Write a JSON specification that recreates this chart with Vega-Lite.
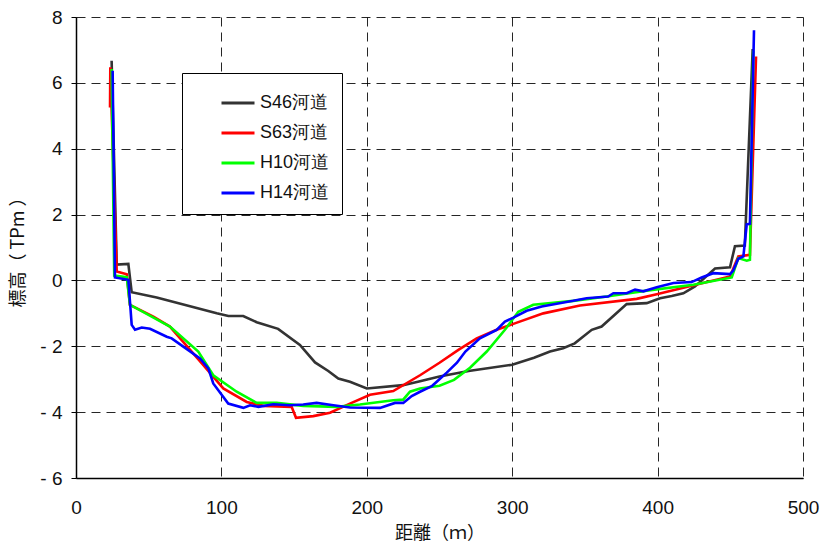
{
  "$schema": "https://vega.github.io/schema/vega-lite/v6.json",
  "width": 727,
  "height": 461,
  "autosize": {"type": "none"},
  "padding": {"left": 76, "top": 17, "right": 18, "bottom": 69},
  "background": "white",
  "config": {
    "view": {"stroke": null},
    "font": "Liberation Sans",
    "axis": {
      "grid": true,
      "gridColor": "#000000",
      "gridDash": [9, 6],
      "gridWidth": 1,
      "gridOpacity": 0.85,
      "domainColor": "#000000",
      "domainWidth": 1.5,
      "labelFont": "Liberation Sans",
      "labelFontSize": 19,
      "labelColor": "#111111",
      "labelFlush": false,
      "titleFont": "Noto Sans CJK JP",
      "titleFontSize": 18,
      "titleFontWeight": "normal",
      "titleColor": "#111111"
    }
  },
  "data": {
    "values": [
      {"s": "S46河道", "i": 1, "x": 24.5, "y": 6.67},
      {"s": "S46河道", "i": 2, "x": 28, "y": 0.48},
      {"s": "S46河道", "i": 3, "x": 36, "y": 0.5},
      {"s": "S46河道", "i": 4, "x": 38.3, "y": -0.36},
      {"s": "S46河道", "i": 5, "x": 55.5, "y": -0.52},
      {"s": "S46河道", "i": 6, "x": 96.8, "y": -1.0},
      {"s": "S46河道", "i": 7, "x": 104.8, "y": -1.08},
      {"s": "S46河道", "i": 8, "x": 115, "y": -1.08},
      {"s": "S46河道", "i": 9, "x": 124.3, "y": -1.27},
      {"s": "S46河道", "i": 10, "x": 139, "y": -1.47},
      {"s": "S46河道", "i": 11, "x": 154, "y": -1.96},
      {"s": "S46河道", "i": 12, "x": 164.4, "y": -2.49},
      {"s": "S46河道", "i": 13, "x": 173.5, "y": -2.75},
      {"s": "S46河道", "i": 14, "x": 180.4, "y": -2.98},
      {"s": "S46河道", "i": 15, "x": 188.4, "y": -3.08},
      {"s": "S46河道", "i": 16, "x": 200, "y": -3.28},
      {"s": "S46河道", "i": 17, "x": 225, "y": -3.18},
      {"s": "S46河道", "i": 18, "x": 236.6, "y": -3.06},
      {"s": "S46河道", "i": 19, "x": 250, "y": -2.92},
      {"s": "S46河道", "i": 20, "x": 270, "y": -2.75},
      {"s": "S46河道", "i": 21, "x": 300, "y": -2.56},
      {"s": "S46河道", "i": 22, "x": 315, "y": -2.35},
      {"s": "S46河道", "i": 23, "x": 326, "y": -2.16},
      {"s": "S46河道", "i": 24, "x": 335, "y": -2.06},
      {"s": "S46河道", "i": 25, "x": 343, "y": -1.91},
      {"s": "S46河道", "i": 26, "x": 354.7, "y": -1.5},
      {"s": "S46河道", "i": 27, "x": 361.5, "y": -1.4},
      {"s": "S46河道", "i": 28, "x": 378.7, "y": -0.72},
      {"s": "S46河道", "i": 29, "x": 392.5, "y": -0.69},
      {"s": "S46河道", "i": 30, "x": 401.7, "y": -0.54},
      {"s": "S46河道", "i": 31, "x": 409.7, "y": -0.47},
      {"s": "S46河道", "i": 32, "x": 417.7, "y": -0.39},
      {"s": "S46河道", "i": 33, "x": 425.7, "y": -0.18},
      {"s": "S46河道", "i": 34, "x": 439.5, "y": 0.36},
      {"s": "S46河道", "i": 35, "x": 449.8, "y": 0.4},
      {"s": "S46河道", "i": 36, "x": 453.2, "y": 1.04},
      {"s": "S46河道", "i": 37, "x": 460, "y": 1.06},
      {"s": "S46河道", "i": 38, "x": 465.4, "y": 7.03},

      {"s": "S63河道", "i": 1, "x": 23.4, "y": 5.25},
      {"s": "S63河道", "i": 2, "x": 23.6, "y": 6.47},
      {"s": "S63河道", "i": 3, "x": 28, "y": 0.27},
      {"s": "S63河道", "i": 4, "x": 34.9, "y": 0.19},
      {"s": "S63河道", "i": 5, "x": 37.1, "y": -0.74},
      {"s": "S63河道", "i": 6, "x": 53.2, "y": -1.1},
      {"s": "S63河道", "i": 7, "x": 64.6, "y": -1.4},
      {"s": "S63河道", "i": 8, "x": 87.6, "y": -2.57},
      {"s": "S63河道", "i": 9, "x": 101.3, "y": -3.28},
      {"s": "S63河道", "i": 10, "x": 117.4, "y": -3.69},
      {"s": "S63河道", "i": 11, "x": 128.8, "y": -3.81},
      {"s": "S63河道", "i": 12, "x": 148.3, "y": -3.84},
      {"s": "S63河道", "i": 13, "x": 151.3, "y": -4.17},
      {"s": "S63河道", "i": 14, "x": 163.2, "y": -4.12},
      {"s": "S63河道", "i": 15, "x": 174.7, "y": -4.02},
      {"s": "S63河道", "i": 16, "x": 188.4, "y": -3.74},
      {"s": "S63河道", "i": 17, "x": 202.2, "y": -3.47},
      {"s": "S63河道", "i": 18, "x": 218.2, "y": -3.36},
      {"s": "S63河道", "i": 19, "x": 236.6, "y": -2.88},
      {"s": "S63河道", "i": 20, "x": 250, "y": -2.5},
      {"s": "S63河道", "i": 21, "x": 263, "y": -2.11},
      {"s": "S63河道", "i": 22, "x": 275.6, "y": -1.76},
      {"s": "S63河道", "i": 23, "x": 289.3, "y": -1.5},
      {"s": "S63河道", "i": 24, "x": 300.8, "y": -1.32},
      {"s": "S63河道", "i": 25, "x": 321.4, "y": -1.0},
      {"s": "S63河道", "i": 26, "x": 346.6, "y": -0.76},
      {"s": "S63河道", "i": 27, "x": 385.6, "y": -0.56},
      {"s": "S63河道", "i": 28, "x": 399.4, "y": -0.42},
      {"s": "S63河道", "i": 29, "x": 423.4, "y": -0.16},
      {"s": "S63河道", "i": 30, "x": 449.8, "y": 0.12},
      {"s": "S63河道", "i": 31, "x": 455.5, "y": 0.73},
      {"s": "S63河道", "i": 32, "x": 463.5, "y": 0.78},
      {"s": "S63河道", "i": 33, "x": 467.7, "y": 6.8},

      {"s": "H10河道", "i": 1, "x": 24.5, "y": 6.42},
      {"s": "H10河道", "i": 2, "x": 26.3, "y": 0.15},
      {"s": "H10河道", "i": 3, "x": 34.9, "y": 0.1},
      {"s": "H10河道", "i": 4, "x": 37.1, "y": -0.74},
      {"s": "H10河道", "i": 5, "x": 64.6, "y": -1.4},
      {"s": "H10河道", "i": 6, "x": 84.1, "y": -2.16},
      {"s": "H10河道", "i": 7, "x": 94.4, "y": -2.88},
      {"s": "H10河道", "i": 8, "x": 110.5, "y": -3.38},
      {"s": "H10河道", "i": 9, "x": 124.3, "y": -3.72},
      {"s": "H10河道", "i": 10, "x": 138, "y": -3.72},
      {"s": "H10河道", "i": 11, "x": 156.3, "y": -3.81},
      {"s": "H10河道", "i": 12, "x": 179.3, "y": -3.84},
      {"s": "H10河道", "i": 13, "x": 195.3, "y": -3.77},
      {"s": "H10河道", "i": 14, "x": 218.2, "y": -3.64},
      {"s": "H10河道", "i": 15, "x": 225, "y": -3.62},
      {"s": "H10河道", "i": 16, "x": 229.7, "y": -3.38},
      {"s": "H10河道", "i": 17, "x": 236.6, "y": -3.28},
      {"s": "H10河道", "i": 18, "x": 250, "y": -3.2},
      {"s": "H10河道", "i": 19, "x": 260, "y": -3.02},
      {"s": "H10河道", "i": 20, "x": 271, "y": -2.65},
      {"s": "H10河道", "i": 21, "x": 282.5, "y": -2.16},
      {"s": "H10河道", "i": 22, "x": 295, "y": -1.5},
      {"s": "H10河道", "i": 23, "x": 304.2, "y": -0.95},
      {"s": "H10河道", "i": 24, "x": 314.5, "y": -0.74},
      {"s": "H10河道", "i": 25, "x": 342, "y": -0.62},
      {"s": "H10河道", "i": 26, "x": 365, "y": -0.49},
      {"s": "H10河道", "i": 27, "x": 392.5, "y": -0.31},
      {"s": "H10河道", "i": 28, "x": 424.6, "y": -0.13},
      {"s": "H10河道", "i": 29, "x": 451, "y": 0.09},
      {"s": "H10河道", "i": 30, "x": 455.5, "y": 0.68},
      {"s": "H10河道", "i": 31, "x": 461.3, "y": 0.6},
      {"s": "H10河道", "i": 32, "x": 463.5, "y": 0.63},
      {"s": "H10河道", "i": 33, "x": 465.8, "y": 6.98},

      {"s": "H14河道", "i": 1, "x": 25.2, "y": 6.37},
      {"s": "H14河道", "i": 2, "x": 26.8, "y": 0.09},
      {"s": "H14河道", "i": 3, "x": 36, "y": 0.02},
      {"s": "H14河道", "i": 4, "x": 38.3, "y": -1.35},
      {"s": "H14河道", "i": 5, "x": 40.6, "y": -1.5},
      {"s": "H14河道", "i": 6, "x": 45.2, "y": -1.43},
      {"s": "H14河道", "i": 7, "x": 50.9, "y": -1.47},
      {"s": "H14河道", "i": 8, "x": 62.4, "y": -1.71},
      {"s": "H14河道", "i": 9, "x": 65.8, "y": -1.76},
      {"s": "H14河道", "i": 10, "x": 73.8, "y": -2.01},
      {"s": "H14河道", "i": 11, "x": 85.3, "y": -2.37},
      {"s": "H14河道", "i": 12, "x": 91, "y": -2.67},
      {"s": "H14河道", "i": 13, "x": 94.4, "y": -3.13},
      {"s": "H14河道", "i": 14, "x": 104.7, "y": -3.74},
      {"s": "H14河道", "i": 15, "x": 115.1, "y": -3.87},
      {"s": "H14河道", "i": 16, "x": 119.7, "y": -3.79},
      {"s": "H14河道", "i": 17, "x": 125.5, "y": -3.84},
      {"s": "H14河道", "i": 18, "x": 135.7, "y": -3.76},
      {"s": "H14河道", "i": 19, "x": 147.1, "y": -3.79},
      {"s": "H14河道", "i": 20, "x": 156.3, "y": -3.77},
      {"s": "H14河道", "i": 21, "x": 165.5, "y": -3.72},
      {"s": "H14河道", "i": 22, "x": 177, "y": -3.79},
      {"s": "H14河道", "i": 23, "x": 188.4, "y": -3.86},
      {"s": "H14河道", "i": 24, "x": 209.1, "y": -3.87},
      {"s": "H14河道", "i": 25, "x": 219.4, "y": -3.72},
      {"s": "H14河道", "i": 26, "x": 225.1, "y": -3.72},
      {"s": "H14河道", "i": 27, "x": 230.9, "y": -3.51},
      {"s": "H14河道", "i": 28, "x": 236.6, "y": -3.38},
      {"s": "H14河道", "i": 29, "x": 245, "y": -3.2},
      {"s": "H14河道", "i": 30, "x": 255, "y": -2.8},
      {"s": "H14河道", "i": 31, "x": 262, "y": -2.5},
      {"s": "H14河道", "i": 32, "x": 267.8, "y": -2.16},
      {"s": "H14河道", "i": 33, "x": 277.8, "y": -1.76},
      {"s": "H14河道", "i": 34, "x": 289.3, "y": -1.5},
      {"s": "H14河道", "i": 35, "x": 295, "y": -1.25},
      {"s": "H14河道", "i": 36, "x": 300.8, "y": -1.13},
      {"s": "H14河道", "i": 37, "x": 310, "y": -0.92},
      {"s": "H14河道", "i": 38, "x": 320.3, "y": -0.79},
      {"s": "H14河道", "i": 39, "x": 342, "y": -0.62},
      {"s": "H14河道", "i": 40, "x": 351.2, "y": -0.54},
      {"s": "H14河道", "i": 41, "x": 366, "y": -0.49},
      {"s": "H14河道", "i": 42, "x": 369.6, "y": -0.39},
      {"s": "H14河道", "i": 43, "x": 378.7, "y": -0.39},
      {"s": "H14河道", "i": 44, "x": 384.5, "y": -0.28},
      {"s": "H14河道", "i": 45, "x": 390.2, "y": -0.33},
      {"s": "H14河道", "i": 46, "x": 399.4, "y": -0.21},
      {"s": "H14河道", "i": 47, "x": 410.9, "y": -0.08},
      {"s": "H14河道", "i": 48, "x": 423.4, "y": -0.05},
      {"s": "H14河道", "i": 49, "x": 430.3, "y": 0.09},
      {"s": "H14河道", "i": 50, "x": 438.3, "y": 0.22},
      {"s": "H14河道", "i": 51, "x": 449.8, "y": 0.19},
      {"s": "H14河道", "i": 52, "x": 452, "y": 0.3},
      {"s": "H14河道", "i": 53, "x": 455.5, "y": 0.66},
      {"s": "H14河道", "i": 54, "x": 459, "y": 0.73},
      {"s": "H14河道", "i": 55, "x": 461.3, "y": 1.7},
      {"s": "H14河道", "i": 56, "x": 463.5, "y": 1.72},
      {"s": "H14河道", "i": 57, "x": 466.3, "y": 7.6}
    ]
  },
  "mark": {"type": "line", "strokeWidth": 2.6, "clip": true},
  "encoding": {
    "x": {
      "field": "x",
      "type": "quantitative",
      "scale": {"domain": [0, 500], "nice": false},
      "axis": {
        "title": "距離（ｍ）",
        "values": [0, 100, 200, 300, 400, 500],
        "tickSize": 0,
        "labelPadding": 20,
        "titlePadding": 7
      }
    },
    "y": {
      "field": "y",
      "type": "quantitative",
      "scale": {"domain": [-6, 8], "nice": false},
      "axis": {
        "title": "標高（ TPm ）",
        "values": [-6, -4, -2, 0, 2, 4, 6, 8],
        "labelExpr": "replace(datum.label, '−', '- ')",
        "tickSize": 5,
        "tickColor": "#000000",
        "labelPadding": 9,
        "titlePadding": 12
      }
    },
    "color": {
      "field": "s",
      "type": "nominal",
      "scale": {
        "domain": ["S46河道", "S63河道", "H10河道", "H14河道"],
        "range": ["#333333", "#ff0000", "#00ff00", "#0000ff"]
      },
      "legend": {
        "title": null,
        "orient": "none",
        "legendX": 106,
        "legendY": 56,
        "symbolType": "stroke",
        "symbolSize": 1089,
        "symbolStrokeWidth": 3,
        "symbolOffset": 26,
        "labelFont": "Liberation Sans",
        "labelFontSize": 18,
        "labelColor": "#111111",
        "labelOffset": 4,
        "rowPadding": 3,
        "padding": 12,
        "strokeColor": "#000000",
        "fillColor": "#ffffff",
        "cornerRadius": 0
      }
    },
    "order": {"field": "i", "type": "quantitative"}
  }
}
